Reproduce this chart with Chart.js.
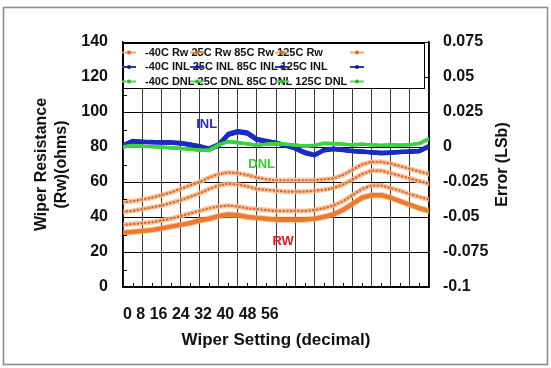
<!DOCTYPE html>
<html><head><meta charset="utf-8">
<script src="https://cdn.jsdelivr.net/npm/chart.js@4.4.0/dist/chart.umd.min.js"></script>
<style>html,body{margin:0;padding:0;background:#fff;}#wrap{width:551px;height:368px;position:relative;}</style>
</head><body><div id="wrap"><canvas id="c"></canvas></div>
<script>
// ---------- data ----------
const wiperSetting = [0,4,8,12,16,20,24,28,32,36,40,44,48,52,56,60,64,68,72,76,80,84,88,92,96,100,104,108,112,116,120,124,128];
const xTickLabels = ['0','8','16','24','32','40','48','56'];
const leftTickLabels = ['0','20','40','60','80','100','120','140'];
const rightTickLabels = ['-0.1','-0.075','-0.05','-0.025','0','0.025','0.05','0.075'];

const rwLabels  = ['-40C Rw','25C Rw','85C Rw','125C Rw'];
const inlLabels = ['-40C INL','25C INL','85C INL','125C INL'];
const dnlLabels = ['-40C DNL','25C DNL','85C DNL','125C DNL'];
const rightTitle = 'Error (LSb)';

// Wiper resistance (ohms)
const rwM40 = [31,31.5,32,32.5,33.5,34.5,35.5,36.5,38,39,40.5,41.5,41,40,39.5,39,38.5,38.5,38.5,38.5,39,40,41.5,44,47.5,51,52.5,52.5,51,49,47,45,43.5];
const rw25  = [35.5,36,36.5,37,38,39,40.5,42,43.5,45,46,46.5,46,45,44.5,44,43.5,43.5,43.5,43.5,44,45,46.5,49,52.5,56,58,58,56.5,55,53,51.5,50];
const rw85  = [43,43.5,44.5,45.5,46.5,48,49.5,51.5,53.5,56,58,59,58.5,57.5,56,55.5,55,54.5,54.5,54.5,55,55.5,56.5,58.5,61.5,64.5,66.5,66.5,65,63.5,62,60.5,59];
const rw125 = [48.5,49,50,51,52.5,54,56,58,60,62.5,64.5,65.5,65,64,62.5,61.5,61,61,61,61,61,61.5,62,64,67,70,71.5,71.5,70.5,69,67.5,66,64.5];

// INL error (LSb)
const inlM40 = [0.001,0.0045,0.0038,0.0036,0.0036,0.0034,0.003,0.002,0.0005,-0.0015,0.0015,0.0095,0.0115,0.0105,0.006,0.0045,0.003,0.0015,-0.0005,-0.004,-0.006,-0.002,-0.001,-0.002,-0.003,-0.003,-0.004,-0.004,-0.0042,-0.0035,-0.003,-0.003,0.0005];
const inl25  = [0.0015,0.004,0.0035,0.0038,0.0033,0.0032,0.0028,0.0018,0.0008,-0.001,0.002,0.009,0.011,0.01,0.0055,0.004,0.0032,0.0012,-0.0008,-0.0035,-0.0055,-0.0025,-0.0012,-0.0018,-0.0028,-0.0032,-0.0038,-0.0042,-0.004,-0.0038,-0.0032,-0.0028,0.0002];
const inl85  = [0.0012,0.0042,0.004,0.0034,0.0035,0.003,0.0026,0.0016,0.0004,-0.0018,0.0012,0.0088,0.0108,0.0098,0.0052,0.0042,0.0028,0.001,-0.001,-0.0042,-0.0058,-0.0022,-0.0014,-0.0022,-0.0026,-0.0034,-0.0036,-0.0044,-0.0038,-0.0033,-0.0034,-0.0026,0.0008];
const inl125 = [0.0008,0.0038,0.0034,0.0032,0.0031,0.0031,0.0024,0.0014,0.0002,-0.002,0.001,0.0085,0.0105,0.0095,0.005,0.0038,0.0026,0.0008,-0.0012,-0.0045,-0.006,-0.0025,-0.0016,-0.0024,-0.003,-0.0036,-0.004,-0.0046,-0.0042,-0.0036,-0.0036,-0.003,0.0003];

// DNL error (LSb)
const dnlM40 = [0.0002,0.0012,0.0006,0.0003,0,-0.0005,-0.001,-0.0015,-0.0022,-0.0025,0.0015,0.004,0.0032,0.0022,0.0012,0.002,0.0025,0.002,0.0016,0.0006,0.001,0.0026,0.0025,0.002,0.0015,0.002,0.0016,0.001,0.0015,0.0012,0.0016,0.0026,0.006];
const dnl25  = [0,0.001,0.0008,0.0001,-0.0002,-0.0006,-0.0012,-0.0018,-0.0025,-0.002,0.0018,0.0036,0.003,0.0025,0.0015,0.0018,0.0022,0.0018,0.0012,0.0008,0.0014,0.0024,0.0022,0.0018,0.0018,0.0022,0.0014,0.0012,0.0018,0.0014,0.0018,0.0024,0.0055];
const dnl85  = [0.0004,0.0008,0.0004,0.0002,0.0001,-0.0004,-0.0008,-0.0016,-0.002,-0.0028,0.0012,0.0042,0.0034,0.002,0.001,0.0022,0.0026,0.0021,0.0014,0.0004,0.0012,0.0028,0.0026,0.0022,0.0013,0.0018,0.0018,0.0011,0.0014,0.001,0.0014,0.0028,0.0058];
const dnl125 = [-0.0002,0.0011,0.0005,0.0004,-0.0001,-0.0007,-0.0011,-0.0013,-0.0024,-0.0022,0.0016,0.0038,0.0028,0.0024,0.0014,0.0019,0.0024,0.0019,0.0015,0.0007,0.0009,0.0025,0.0024,0.0021,0.0016,0.0021,0.0015,0.0013,0.0016,0.0013,0.0017,0.0025,0.0062];

// ---------- chart ----------
const pts = arr => arr.map((v,i)=>({x: wiperSetting[i], y: v}));
const FONT = "'Liberation Sans', Arial, sans-serif";
Chart.defaults.font.family = FONT;
Chart.defaults.color = '#111';

const dotted = (label, data) => ({label, data: pts(data), yAxisID:'y', order:2,
  borderColor:'#d9692b', borderWidth:2.2, borderCapStyle:'round', borderDash:[0.5,3.2],
  halo:'rgba(247,186,140,0.85)', haloWidth:5, pointRadius:0, tension:0});
const solidRw = (label, data) => ({label, data: pts(data), yAxisID:'y', order:2,
  borderColor:'#ec7a2f', borderWidth:4.5, halo:'rgba(247,175,120,0.6)', haloWidth:6.5,
  pointRadius:0, tension:0});
const inl = (label, data) => ({label, data: pts(data), yAxisID:'y1', order:1,
  borderColor:'#1a2bc2', borderWidth:4, pointRadius:0, tension:0});
const dnl = (label, data) => ({label, data: pts(data), yAxisID:'y1', order:0,
  borderColor:'#3ad33f', borderWidth:3, pointRadius:0, tension:0});

const datasets = [
  solidRw(rwLabels[0], rwM40), dotted(rwLabels[1], rw25), dotted(rwLabels[2], rw85), dotted(rwLabels[3], rw125),
  inl(inlLabels[0], inlM40), inl(inlLabels[1], inl25), inl(inlLabels[2], inl85), inl(inlLabels[3], inl125),
  dnl(dnlLabels[0], dnlM40), dnl(dnlLabels[1], dnl25), dnl(dnlLabels[2], dnl85), dnl(dnlLabels[3], dnl125)
];

const frame = {
  id:'frame',
  beforeDraw(chart){
    const ctx = chart.ctx;
    ctx.save();
    ctx.fillStyle = '#fff'; ctx.fillRect(0,0,chart.width,chart.height);
    ctx.strokeStyle = '#8c8c8c'; ctx.lineWidth = 1.6;
    ctx.strokeRect(3.5, 7.5, 544, 357);
    ctx.restore();
  }
};

const halo = {
  id:'halo',
  beforeDatasetDraw(chart, args){
    const ds = chart.data.datasets[args.index];
    if (!ds.halo) return;
    const ctx = chart.ctx, a = chart.chartArea;
    ctx.save();
    ctx.beginPath(); ctx.rect(a.left, a.top, a.right-a.left, a.bottom-a.top); ctx.clip();
    ctx.beginPath();
    args.meta.dataset.path(ctx);
    ctx.strokeStyle = ds.halo; ctx.lineWidth = ds.haloWidth; ctx.lineJoin = 'round'; ctx.lineCap='round';
    ctx.stroke();
    ctx.restore();
  }
};

const extras = {
  id:'extras',
  afterDraw(chart){
    // right axis title, reading bottom-to-top as in the reference
    const ctx = chart.ctx, a = chart.chartArea, s = chart.scales.y1;
    ctx.save();
    ctx.translate(s.right - 48, (a.top + a.bottom) / 2);
    ctx.rotate(-Math.PI / 2);
    ctx.font = "bold 16px " + FONT; ctx.fillStyle = '#111';
    ctx.textAlign = 'center'; ctx.textBaseline = 'middle';
    ctx.fillText(rightTitle, 0, 0);
    ctx.restore();
  },
  afterDatasetsDraw(chart){
    const ctx = chart.ctx, a = chart.chartArea;
    const sx = chart.scales.x, sy = chart.scales.y;
    ctx.save();
    // minor ticks
    ctx.strokeStyle = '#000'; ctx.lineWidth = 1;
    for (let v = 4; v < 128; v += 8) {
      const px = Math.round(sx.getPixelForValue(v)) + 0.5;
      ctx.beginPath(); ctx.moveTo(px, a.bottom); ctx.lineTo(px, a.bottom - 4); ctx.stroke();
    }
    for (let v = 10; v < 140; v += 20) {
      const py = Math.round(sy.getPixelForValue(v)) + 0.5;
      ctx.beginPath(); ctx.moveTo(a.left, py); ctx.lineTo(a.left + 4, py); ctx.stroke();
    }
    // annotations
    ctx.font = "bold 13px " + FONT; ctx.textAlign = 'center'; ctx.textBaseline = 'middle';
    ctx.fillStyle = '#2a2ad0'; ctx.fillText('INL', sx.getPixelForValue(35), sy.getPixelForValue(93));
    ctx.fillStyle = '#2fd12f'; ctx.fillText('DNL', sx.getPixelForValue(58), sy.getPixelForValue(70));
    ctx.fillStyle = '#d42222'; ctx.fillText('RW', sx.getPixelForValue(67), sy.getPixelForValue(26));
    // legend box
    const bx = a.left + 0.5, by = a.top + 1.5, bw = 301, bh = 45;
    ctx.fillStyle = '#fff'; ctx.fillRect(bx, by, bw, bh);
    ctx.strokeStyle = '#000'; ctx.lineWidth = 1; ctx.strokeRect(bx, by, bw, bh);
    const rows = [rwLabels, inlLabels, dnlLabels];
    const lineCols = ['rgba(240,160,100,0.9)', '#2a3aa8', '#59d85c'];
    const dotCols = ['#d9692b', '#12208a', '#2bb82f'];
    const markX = [6, 74, 159, 234];
    ctx.font = "bold 11px " + FONT; ctx.textAlign = 'left'; ctx.textBaseline = 'middle';
    rows.forEach((labels, r) => {
      const y = by + 9 + r * 14.5;
      ctx.fillStyle = '#111';
      ctx.fillText(labels.join(' '), a.left + 22, y);
      markX.forEach(m => {
        const cx = a.left + m;
        ctx.strokeStyle = lineCols[r]; ctx.lineWidth = 2;
        ctx.beginPath(); ctx.moveTo(cx - 7, y); ctx.lineTo(cx + 7, y); ctx.stroke();
        ctx.fillStyle = dotCols[r];
        ctx.beginPath(); ctx.arc(cx, y, 2, 0, Math.PI*2); ctx.fill();
      });
    });
    ctx.restore();
  }
};

new Chart(document.getElementById('c'), {
  type:'line',
  data:{ datasets },
  plugins:[frame, halo, extras],
  options:{
    responsive:true, maintainAspectRatio:false, animation:false,
    layout:{ padding:{ top:42, left:0, right:0, bottom:0 } },
    plugins:{ legend:{display:false}, tooltip:{enabled:false} },
    elements:{ line:{ borderJoinStyle:'round' } },
    scales:{
      x:{ type:'linear', position:'bottom', min:0, max:128,
        ticks:{ stepSize:8, autoSkip:false, maxRotation:0, align:'start', padding:18,
          font:{ size:16, weight:'bold' }, color:'#111',
          callback:(v,i)=> i===0 ? xTickLabels.join(' ') : '' },
        grid:{ color:'#3a3a3a', lineWidth:1, drawTicks:false },
        border:{ color:'#000', width:1.5 },
        title:{ display:true, text:'Wiper Setting (decimal)', font:{ size:17, weight:'bold' }, color:'#111', padding:{ top:0, bottom:17 } },
        afterFit: s => { s.height = 81; } },
      y:{ position:'left', min:0, max:140,
        ticks:{ stepSize:20, padding:15, font:{ size:16, weight:'bold' }, color:'#111',
          callback:(v,i)=> leftTickLabels[i] },
        grid:{ color:'#000', lineWidth:1, drawTicks:false },
        border:{ color:'#000', width:1.5 },
        title:{ display:true, text:['Wiper Resistance','(Rw)(ohms)'], font:{ size:16, weight:'bold' }, color:'#111', padding:{ top:32.4, bottom:0 } },
        afterFit: s => { s.width = 123; } },
      y1:{ position:'right', min:-0.1, max:0.075,
        ticks:{ stepSize:0.025, padding:14, font:{ size:16, weight:'bold' }, color:'#111',
          callback:(v,i)=> rightTickLabels[i] },
        grid:{ drawOnChartArea:false, drawTicks:false },
        border:{ color:'#000', width:1.5 },
        title:{ display:false },
        afterFit: s => { s.width = 122; } }
    }
  }
});
</script></body></html>
